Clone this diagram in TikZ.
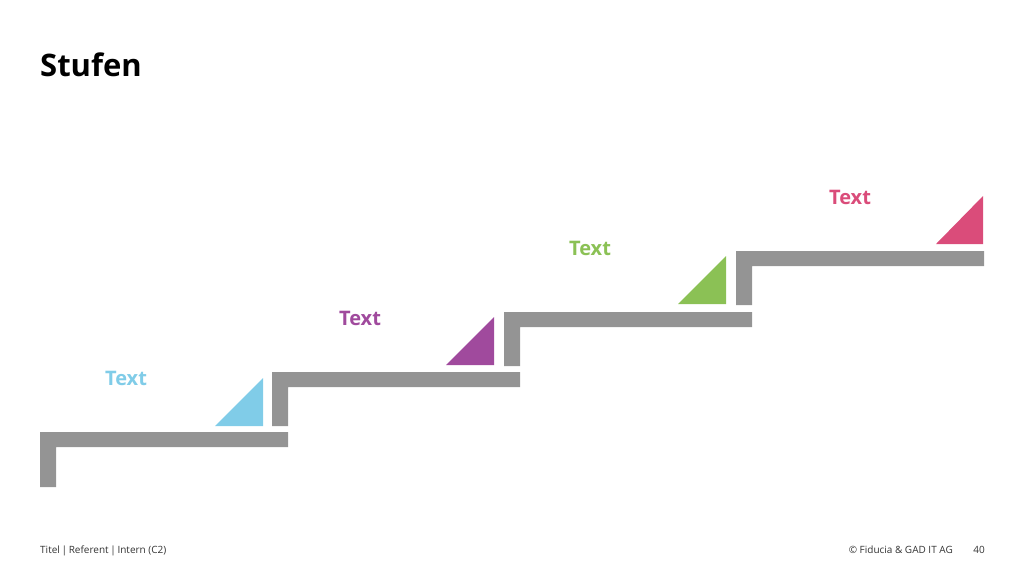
\documentclass[tikz,border=0pt]{standalone}
\usepackage{fontspec}
\setmainfont{Open Sans}
\usepackage{tikz}
\usetikzlibrary{positioning, calc}
\definecolor{stepgray}{RGB}{148,148,148}
\definecolor{skyblue}{RGB}{128,204,232}
\definecolor{violet}{RGB}{160,74,157}
\definecolor{leafgreen}{RGB}{139,193,85}
\definecolor{rose}{RGB}{218,76,122}
\tikzstyle{stepshape}=[fill=stepgray,draw=none]
\tikzstyle{steplabel}=[inner sep=0pt,font=\fontsize{20}{22}\selectfont\bfseries]
\tikzstyle{footer}=[inner sep=0pt,anchor=base west,text=black!80,
font=\fontsize{10}{12}\selectfont]
\newcommand{\stair}[3]{% x, y, leg length
  \fill[stepshape] (#1,#2) -- ++(248,0) -- ++(0,15) -- ++(-232,0)
    -- ++(0,#3-15) -- ++(-16,0) -- cycle;}

\begin{document}
\begin{tikzpicture}[x=1pt,y=-1pt]
    \useasboundingbox (0,0) rectangle (1024,576);
    \node[inner sep=0pt, anchor=base west,
      font=\fontsize{31}{34}\selectfont\bfseries] (title) at (40,76) {Stufen};

    % stairs
    \stair{40}{432}{55}
    \stair{272}{372}{54}
    \stair{504}{312}{54}
    \stair{736}{251}{54}

    % wedges
    \fill[skyblue] (215,426) -- (263,426) -- (263,378) -- cycle;
    \fill[violet] (446,365) -- (494,365) -- (494,317) -- cycle;
    \fill[leafgreen] (678,304) -- (726,304) -- (726,256) -- cycle;
    \fill[rose] (936,244) -- (983,244) -- (983,196) -- cycle;

    \node[steplabel, text=skyblue] (text1) at (126,378) {Text};
    \node[steplabel, text=violet] (text2) at (360,318) {Text};
    \node[steplabel, text=leafgreen] (text3) at (590,248) {Text};
    \node[steplabel, text=rose] (text4) at (850,197) {Text};

    \node[footer] (left) at (40,553) {Titel\,|\,Referent\,|\,Intern (C2)};
    \node[footer, anchor=base east] (page) at (985,553) {40};
    \node[footer, anchor=base east] (corp) at (953,553) {© Fiducia \& GAD IT AG};
\end{tikzpicture}
\end{document}
